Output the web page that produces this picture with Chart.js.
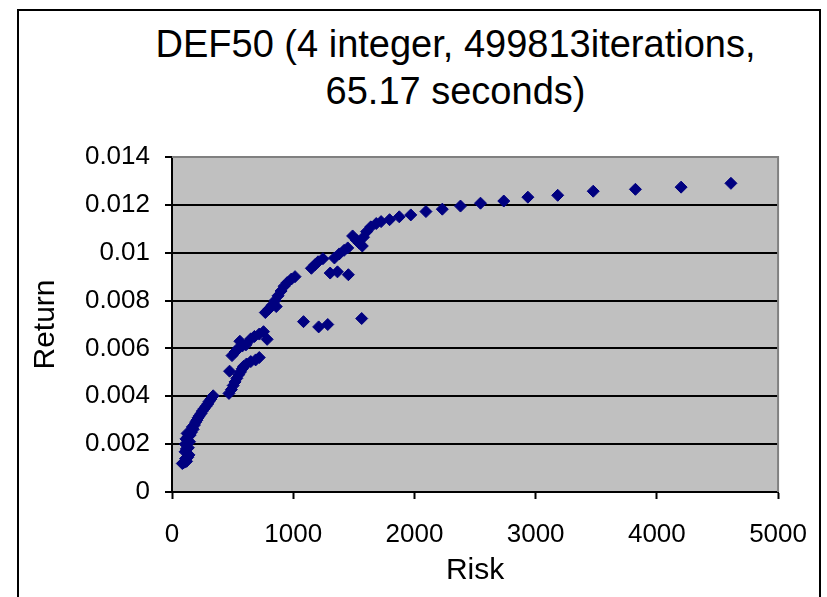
<!DOCTYPE html>
<html>
<head>
<meta charset="utf-8">
<script src="https://cdn.jsdelivr.net/npm/chart.js@4"></script>
<style>
  body { margin: 0; background: #fff; }
  #wrap { position: relative; width: 827px; height: 597px; overflow: hidden; }
  #frame {
    position: absolute; left: 17px; top: 9px; width: 800px; height: 600px;
    border: 2px solid #000;
  }
  #title {
    position: absolute; left: 0; top: 21px; width: 911px; text-align: center;
    font-family: "Liberation Sans", Arial, sans-serif; font-size: 38px; line-height: 47px; color: #000;
  }
  canvas { position: absolute; left: 0; top: 0; }
</style>
</head>
<body>
<div id="wrap">
  <div id="frame"></div>
  <div id="title">DEF50 (4 integer, 499813iterations,<br>65.17 seconds)</div>
  <canvas id="frontierChart" width="827" height="597"></canvas>
</div>
<script>
// values
const riskValues = [
  85, 95, 105, 120, 112, 130, 140, 108, 118, 135, 110, 128, 145, 115, 135, 150, 125, 160, 175, 168,
  185, 195, 205, 215, 225, 240, 250, 265, 280, 295, 305, 320, 340,
  470, 490, 505, 520, 535, 550, 565, 475, 580, 590, 615, 650, 690, 720, 495, 520, 545,
  580, 560, 610, 650, 680, 720, 755, 785, 770, 800, 825, 860, 850, 875, 900, 925, 950, 985, 1015,
  1085, 1210, 1285, 1565, 1305, 1365, 1455,
  1150, 1180, 1205, 1245, 1340, 1380, 1420, 1450, 1490, 1520, 1545, 1570, 1580, 1605, 1640, 1685,
  1725, 1795, 1875, 1970, 2095, 2230, 2380, 2545, 2737, 2936, 3182, 3475, 3823, 4200, 4611
]
const returnValues = [
  0.00119, 0.00122, 0.00125, 0.00128, 0.0014, 0.00145, 0.00155, 0.00168, 0.0018, 0.00185, 0.002, 0.00205, 0.0021, 0.00222, 0.00232, 0.00238, 0.00245, 0.0025, 0.00262, 0.00272,
  0.0028, 0.00292, 0.003, 0.0031, 0.00318, 0.00328, 0.00338, 0.00348, 0.00358, 0.00368, 0.00378, 0.00388, 0.00402,
  0.00412, 0.00428, 0.00445, 0.0046, 0.00475, 0.0049, 0.00502, 0.00505, 0.00515, 0.00525, 0.00535, 0.00545, 0.00552, 0.00562, 0.0057, 0.00585, 0.006,
  0.0061, 0.0063, 0.00615, 0.0064, 0.0065, 0.0066, 0.0067, 0.00638, 0.0075, 0.00765, 0.0078, 0.00775, 0.008, 0.0082, 0.0084, 0.0086, 0.00875, 0.0089, 0.009,
  0.00712, 0.0069, 0.007, 0.00725, 0.00915, 0.0092, 0.00908,
  0.00935, 0.0095, 0.00962, 0.00975, 0.00978, 0.00995, 0.0101, 0.0102, 0.0107, 0.01053, 0.0104, 0.01028, 0.01065, 0.01088, 0.01108, 0.01122,
  0.0113, 0.01138, 0.0115, 0.01158, 0.01172, 0.01182, 0.01195, 0.01207, 0.01216, 0.01232, 0.0124, 0.01257, 0.01265, 0.01274, 0.0129
]
const xTicks = [0, 1000, 2000, 3000, 4000, 5000]
const yTicks = [0, 0.002, 0.004, 0.006, 0.008, 0.01, 0.012, 0.014]

const points = riskValues.map((r, i) => ({ x: r, y: returnValues[i] }))

// grey plot area with a grey frame on top / right
const plotBackground = {
    id: 'plotBackground',
    beforeDraw(chart) {
        const { ctx, chartArea: a } = chart
        ctx.save()
        ctx.fillStyle = '#c0c0c0'
        ctx.fillRect(a.left, a.top, a.right - a.left, a.bottom - a.top)
        ctx.restore()
    },
    beforeDatasetsDraw(chart) {
        const { ctx, chartArea: a } = chart
        ctx.save()
        ctx.strokeStyle = '#808080'
        ctx.lineWidth = 2
        ctx.beginPath()
        ctx.moveTo(a.left, a.top)
        ctx.lineTo(a.right, a.top)
        ctx.lineTo(a.right, a.bottom)
        ctx.stroke()
        ctx.restore()
    }
}

const tickFont = { family: '"Liberation Sans", Arial, sans-serif', size: 26 }
const titleFont = { family: '"Liberation Sans", Arial, sans-serif', size: 30 }

var frontierChart = new Chart(
    document.getElementById('frontierChart'),
    {
        type: 'scatter',
        data: {
            datasets: [{
                label: 'Return',
                data: points,
                pointStyle: 'rectRot',
                pointRadius: 6,
                pointHoverRadius: 6,
                backgroundColor: '#000080',
                borderColor: '#000080',
                borderWidth: 1
            }]
        },
        plugins: [plotBackground],
        options: {
            responsive: false,
            animation: false,
            layout: {
                padding: { left: 18, right: 46.5, top: 157, bottom: 0 }
            },
            scales: {
                x: {
                    type: 'linear',
                    min: 0,
                    max: 5000,
                    afterFit: function (scale) { scale.height = 105 },
                    afterBuildTicks: function (scale) { scale.ticks = xTicks.map(v => ({ value: v })) },
                    ticks: {
                        color: '#000',
                        font: tickFont,
                        padding: 20,
                        maxRotation: 0,
                        callback: v => String(v)
                    },
                    grid: {
                        drawOnChartArea: false,
                        tickLength: 7,
                        tickColor: '#000',
                        tickWidth: 2
                    },
                    border: { color: '#000', width: 2 },
                    title: {
                        display: true,
                        text: 'Risk',
                        color: '#000',
                        font: titleFont,
                        padding: { top: 0, bottom: 8 }
                    }
                },
                y: {
                    type: 'linear',
                    min: 0,
                    max: 0.014,
                    afterFit: function (scale) { scale.width = 154 },
                    afterBuildTicks: function (scale) { scale.ticks = yTicks.map(v => ({ value: v })) },
                    ticks: {
                        color: '#000',
                        font: tickFont,
                        padding: 15,
                        callback: v => String(Number(v.toFixed(3)))
                    },
                    grid: {
                        color: ctx => (ctx.tick && ctx.tick.value >= 0.014 ? '#808080' : '#000'),
                        lineWidth: 2,
                        tickLength: 7,
                        tickColor: '#000',
                        tickWidth: 2
                    },
                    border: { color: '#000', width: 2 },
                    title: {
                        display: true,
                        text: 'Return',
                        color: '#000',
                        font: titleFont,
                        padding: { top: 10, bottom: 0 }
                    }
                }
            },
            plugins: {
                legend: { display: false },
                title: { display: false },
                tooltip: { enabled: false }
            }
        }
    }
);
</script>
</body>
</html>
